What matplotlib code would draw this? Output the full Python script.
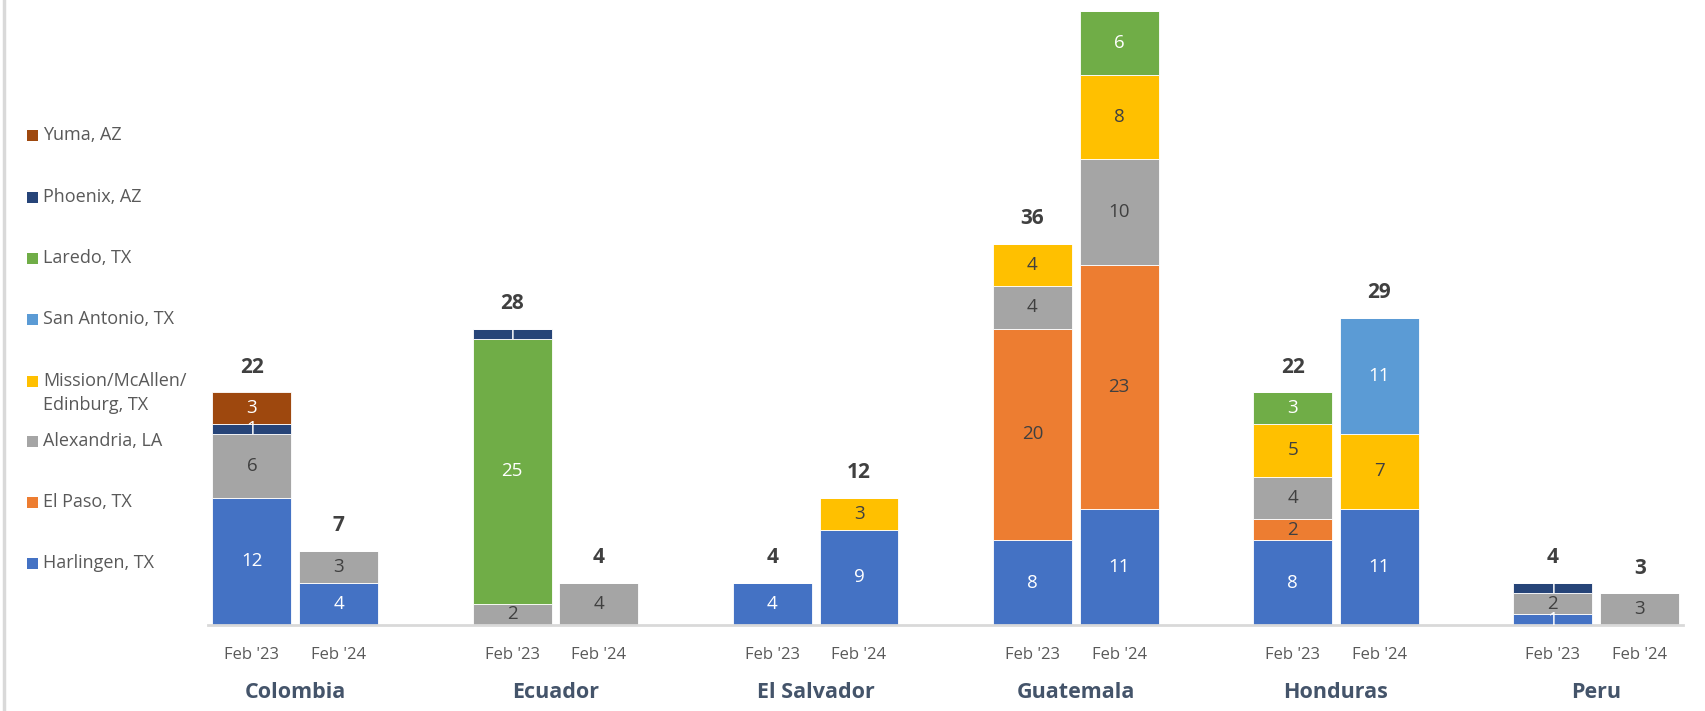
import matplotlib
matplotlib.use("Agg")
import matplotlib.pyplot as plt
from matplotlib.patches import Rectangle
from matplotlib.lines import Line2D

# ---------------- data ----------------
countries = ["Colombia", "Ecuador", "El Salvador", "Guatemala", "Honduras", "Peru"]
periods = ["Feb '23", "Feb '24"]
series = ["Harlingen, TX", "El Paso, TX", "Alexandria, LA", "Mission/McAllen/\nEdinburg, TX",
          "San Antonio, TX", "Laredo, TX", "Phoenix, AZ", "Yuma, AZ"]
# order: Col23, Col24, Ecu23, Ecu24, ES23, ES24, Gua23, Gua24, Hon23, Hon24, Per23, Per24
harlingen   = [12, 4, 0, 0, 4, 9, 8, 11, 8, 11, 1, 0]
el_paso     = [0, 0, 0, 0, 0, 0, 20, 23, 2, 0, 0, 0]
alexandria  = [6, 3, 2, 4, 0, 0, 4, 10, 4, 0, 2, 3]
mission     = [0, 0, 0, 0, 0, 3, 4, 8, 5, 7, 0, 0]
san_antonio = [0, 0, 0, 0, 0, 0, 0, 0, 0, 11, 0, 0]
laredo      = [0, 0, 25, 0, 0, 0, 0, 6, 3, 0, 0, 0]
phoenix     = [1, 0, 1, 0, 0, 0, 0, 0, 0, 0, 1, 0]
yuma        = [3, 0, 0, 0, 0, 0, 0, 0, 0, 0, 0, 0]
values = [harlingen, el_paso, alexandria, mission, san_antonio, laredo, phoenix, yuma]

colors = ["#4472C4", "#ED7D31", "#A5A5A5", "#FFC000", "#5B9BD5", "#70AD47", "#264478", "#9E480E"]
label_colors = ["white", "#404040", "#404040", "#404040", "white", "white", "white", "white"]

FONT = ["Open Sans", "DejaVu Sans"]
plt.rcParams["font.family"] = FONT

W, H = 1706, 711
fig = plt.figure(figsize=(W / 100, H / 100), dpi=100)
ax = fig.add_axes([208.5 / W, (H - 625) / H, (1683 - 208.5) / W, (625 - 11) / H])
YMAX = 58

n = len(harlingen)
xs = [3 * (i // 2) + (i % 2) for i in range(n)]
bottoms = [0.0] * n
for vals, col, lc in zip(values, colors, label_colors):
    ax.bar(xs, vals, width=0.91, bottom=bottoms, color=col, edgecolor="white",
           linewidth=0.6, zorder=2)
    for x, v, b in zip(xs, vals, bottoms):
        if v > 0:
            ax.text(x, b + v / 2, str(v), ha="center", va="center", color=lc,
                    fontsize=13.5, zorder=3)
    bottoms = [b + v for b, v in zip(bottoms, vals)]

# total labels (those that would fall outside the plot area are not shown, as in Excel)
for x, t in zip(xs, bottoms):
    if t + 3.5 <= YMAX:
        ax.annotate(str(int(t)), (x, t), xytext=(0, 18), textcoords="offset points",
                    ha="center", va="center", fontsize=15, fontweight="bold",
                    color="#404040")

ax.set_xlim(-0.5, 3 * (len(countries) - 1) + 1.5)
ax.set_ylim(0, YMAX)
for s in ["top", "right", "left"]:
    ax.spines[s].set_visible(False)
ax.spines["bottom"].set_color("#D9D9D9")
ax.spines["bottom"].set_linewidth(2)
ax.set_yticks([])
ax.set_xticks(xs)
ax.set_xticklabels([periods[i % 2] for i in range(n)], fontsize=12, color="#595959")
ax.tick_params(axis="x", length=0, pad=16)

for g, c in enumerate(countries):
    xc = 3 * g + 0.5
    ax.annotate(c, (xc, 0), xycoords=("data", "axes fraction"), xytext=(0, -67 * 0.72),
                textcoords="offset points", ha="center", va="center",
                fontsize=15.5, fontweight="bold", color="#44546A")

# left border line
fig.add_artist(Line2D([4.5 / W, 4.5 / W], [0, 1], transform=fig.transFigure,
                      color="#D9D9D9", linewidth=2.5))

# legend (manual)
leg_y = [563, 502, 441, 381, 319, 258, 197, 135]
for yy, col, name in zip(leg_y, colors, series):
    fig.add_artist(Rectangle((27 / W, (H - yy - 5.5) / H), 11 / W, 11 / H,
                             transform=fig.transFigure, facecolor=col, edgecolor="none"))
    for k, line in enumerate(name.split("\n")):
        fig.text(43 / W, (H - yy - 24 * k) / H, line, ha="left", va="center",
                 fontsize=13, color="#595959")

fig.savefig("out.png", dpi=100)
